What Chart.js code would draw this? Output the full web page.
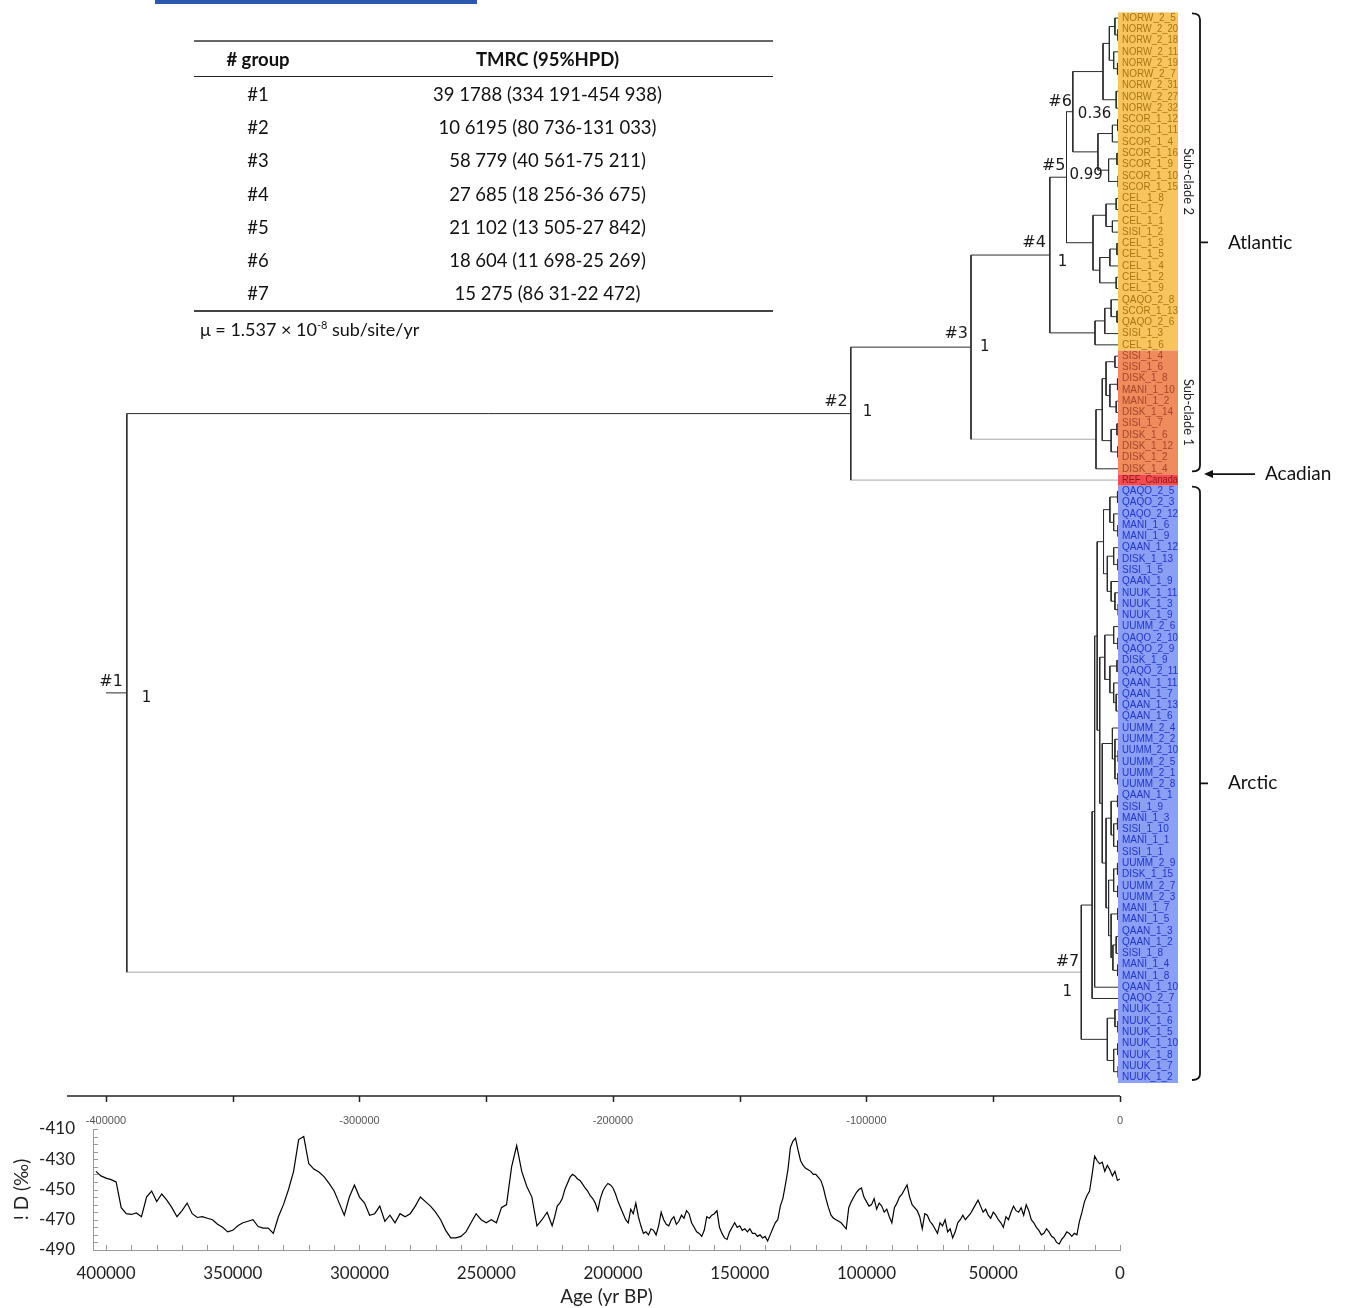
<!DOCTYPE html>
<html>
<head>
<meta charset="utf-8">
<title>TMRCA tree and deuterium record</title>
<script src="https://cdn.jsdelivr.net/npm/chart.js@4.4.1/dist/chart.umd.min.js"></script>
<style>
    html, body { margin: 0; padding: 0; background: #fff; }
    body { position: relative; width: 1357px; height: 1308px; overflow: hidden; font-family: Lato, "Open Sans", sans-serif; }
    #treeChart { position: absolute; left: 0; top: 0; }
    #climChart { position: absolute; left: 0; top: 1090px; }
    .topbar { position: absolute; left: 155px; top: 0; width: 322px; height: 4px; background: #2b58ad; }
    #tmrc { position: absolute; left: 194px; top: 40px; width: 579px; border-collapse: collapse; font-size: 18.5px; color: #111; }
    #tmrc th { height: 34px; padding: 0; font-weight: bold; border-top: 2px solid #666; border-bottom: 1.5px solid #222; }
    #tmrc td { height: 33.3px; padding: 0; text-align: center; }
    #tmrc tbody tr:last-child td { border-bottom: 2px solid #444; }
    #tmrc .c1 { width: 128px; }
    #mu { position: absolute; left: 200px; top: 318px; font-size: 18px; color: #111; }
    #mu sup { font-size: 11px; }
</style>
</head>
<body>
<canvas id="treeChart" width="1357" height="1090"></canvas>
<canvas id="climChart" width="1357" height="218"></canvas>
<div class="topbar"></div>
<table id="tmrc">
    <thead><tr><th class="c1"># group</th><th>TMRC (95%HPD)</th></tr></thead>
    <tbody id="tmrcBody"></tbody>
</table>
<div id="mu">μ = 1.537 × 10<sup>-8</sup> sub/site/yr</div>

<script>
// ---- data ----
const nodeNames = ['#1', '#2', '#3', '#4', '#5', '#6', '#7'];
const nodeAges = [391788, 106195, 58779, 27685, 21102, 18604, 15275];
const nodePosterior = ['1', '1', '1', '1', '0.99', '0.36', '1'];
const nodeHpd = ['39 1788 (334 191-454 938)', '10 6195 (80 736-131 033)', '58 779 (40 561-75 211)',
    '27 685 (18 256-36 675)', '21 102 (13 505-27 842)', '18 604 (11 698-25 269)', '15 275 (86 31-22 472)'];

const tipNames = [
    'NORW_2_5', 'NORW_2_20', 'NORW_2_18', 'NORW_2_11', 'NORW_2_19', 'NORW_2_7', 'NORW_2_31', 'NORW_2_27', 'NORW_2_32',
    'SCOR_1_12', 'SCOR_1_11', 'SCOR_1_4', 'SCOR_1_16', 'SCOR_1_9', 'SCOR_1_10', 'SCOR_1_15',
    'CEL_1_8', 'CEL_1_7', 'CEL_1_1', 'SISI_1_2', 'CEL_1_3', 'CEL_1_5', 'CEL_1_4', 'CEL_1_2', 'CEL_1_9',
    'QAQO_2_8', 'SCOR_1_13', 'QAQO_2_6', 'SISI_1_3', 'CEL_1_6',
    'SISI_1_4', 'SISI_1_6', 'DISK_1_8', 'MANI_1_10', 'MANI_1_2', 'DISK_1_14', 'SISI_1_7', 'DISK_1_6', 'DISK_1_12', 'DISK_1_2', 'DISK_1_4',
    'REF_Canada',
    'QAQO_2_5', 'QAQO_2_3', 'QAQO_2_12', 'MANI_1_6', 'MANI_1_9', 'QAAN_1_12', 'DISK_1_13', 'SISI_1_5', 'QAAN_1_9',
    'NUUK_1_11', 'NUUK_1_3', 'NUUK_1_9', 'UUMM_2_6', 'QAQO_2_10', 'QAQO_2_9', 'DISK_1_9', 'QAQO_2_11',
    'QAAN_1_11', 'QAAN_1_7', 'QAAN_1_13', 'QAAN_1_6', 'UUMM_2_4', 'UUMM_2_2', 'UUMM_2_10', 'UUMM_2_5', 'UUMM_2_1', 'UUMM_2_8',
    'QAAN_1_1', 'SISI_1_9', 'MANI_1_3', 'SISI_1_10', 'MANI_1_1', 'SISI_1_1', 'UUMM_2_9', 'DISK_1_15', 'UUMM_2_7', 'UUMM_2_3',
    'MANI_1_7', 'MANI_1_5', 'QAAN_1_3', 'QAAN_1_2', 'SISI_1_8', 'MANI_1_4', 'MANI_1_8', 'QAAN_1_10', 'QAQO_2_7',
    'NUUK_1_1', 'NUUK_1_6', 'NUUK_1_5', 'NUUK_1_10', 'NUUK_1_8', 'NUUK_1_7', 'NUUK_1_2'
];

// clades: [first tip, last tip, age (yr BP)]; first seven are the numbered nodes
const clades = [
    [0, 94, 391788], [0, 41, 106195], [0, 40, 58779], [0, 29, 27685], [0, 24, 21102], [0, 15, 18604], [42, 94, 15275],
    [0, 8, 6700], [0, 5, 4200], [0, 2, 2000], [1, 2, 800], [3, 5, 2500], [4, 5, 1000], [6, 8, 1500], [6, 7, 600],
    [9, 15, 8700], [9, 11, 3000], [9, 10, 900], [12, 15, 4500], [12, 13, 1200], [14, 15, 700],
    [16, 24, 10650], [16, 19, 5500], [16, 17, 1500], [18, 19, 3000], [20, 24, 8000], [20, 22, 4000], [20, 21, 1200], [23, 24, 1500],
    [25, 29, 9860], [25, 28, 6000], [25, 27, 3500], [26, 27, 1200],
    [30, 40, 9470], [30, 39, 7000], [30, 35, 5500], [30, 31, 2000], [32, 35, 4000], [32, 33, 1000], [34, 35, 1500],
    [36, 39, 3500], [36, 37, 1200], [38, 39, 800],
    [42, 87, 11000], [42, 86, 10000], [42, 85, 9000], [42, 53, 6500], [42, 46, 4000], [42, 43, 1000], [44, 46, 2500], [45, 46, 800],
    [47, 53, 5000], [47, 49, 2500], [48, 49, 800], [50, 53, 3500], [51, 53, 2000], [52, 53, 700],
    [54, 85, 8000], [54, 62, 6000], [54, 56, 2500], [55, 56, 800], [57, 62, 4000], [57, 58, 1200], [59, 62, 2500], [60, 62, 1500], [61, 62, 600],
    [63, 85, 7000], [63, 68, 3000], [64, 68, 2000], [65, 66, 700], [67, 68, 800],
    [69, 85, 5500], [69, 74, 3500], [69, 70, 1000], [71, 74, 2500], [71, 72, 1000], [73, 74, 900],
    [75, 85, 4500], [75, 78, 2500], [75, 76, 1000], [77, 78, 900],
    [79, 85, 3500], [79, 80, 900], [81, 85, 2800], [81, 83, 1500], [81, 82, 600], [84, 85, 900],
    [88, 94, 5000], [88, 90, 2000], [89, 90, 800], [91, 94, 2500], [91, 92, 900], [93, 94, 700]
];

const boxFirst = [0, 30, 41, 42];
const boxLast = [29, 40, 41, 94];
const subcladeNames = ['Sub-clade 2', 'Sub-clade 1'];
const subcladeFirst = [0, 30];
const subcladeLast = [29, 40];
const regionNames = ['Atlantic', 'Acadian', 'Arctic'];
const regionFirst = [0, 41, 42];
const regionLast = [40, 41, 94];

// deuterium record (‰): 404 000 -> 224 000 yr BP every 2000 yr
const dDOldStart = 404000, dDOldStep = 2000;
const dDOld = [
    -438, -441, -442.5, -443.5, -445, -462, -466, -466.5, -465.5, -468,
    -455, -451, -458, -453, -457, -462, -468, -464, -459, -466,
    -468.5, -468, -469, -470, -473, -475, -478, -477, -474, -472,
    -471, -470, -474.5, -475.5, -475.5, -479, -468, -460, -450, -438,
    -417, -415, -433, -436.5, -438.5, -441.5, -446, -451, -459, -467,
    -455, -447, -455, -459, -467, -466, -461, -471, -467, -472,
    -466, -468, -466, -461, -455, -458, -461, -465, -470, -477,
    -482, -482, -481, -478, -472, -466, -470, -472, -470, -472,
    -462, -460, -435, -421, -438, -448, -455, -474, -470, -465,
    -474
];
// 223 000 -> 0 yr BP every 1000 yr
const dDYoungStart = 223000, dDYoungStep = 1000;
const dDYoung = [
    -468, -461, -459, -456, -450, -446, -442, -440, -441, -443,
    -444, -446.5, -449, -451, -454, -456, -459, -464, -456, -451,
    -448, -446, -447, -449, -453, -458, -462, -466, -470, -472,
    -463, -466, -459, -468, -474, -479, -478, -480, -476, -477,
    -480, -474, -465, -470, -473, -474, -470, -468, -473, -471,
    -467, -469, -464, -466, -472, -475, -478, -479, -481, -477,
    -468, -469, -467, -466, -464, -475, -479, -482, -483, -478,
    -475, -472, -475, -474, -477, -476, -478, -476, -479, -479,
    -481, -480, -482, -481, -484, -480, -476, -472, -470, -461,
    -456, -447, -437, -422, -418, -416, -424, -431, -434, -436,
    -437, -438, -440, -440, -442, -444, -449, -456, -462, -467,
    -469, -470, -471, -472, -474, -476, -462, -458, -455, -452,
    -450, -449, -455, -458, -461, -460, -456, -463, -459, -461,
    -465, -463, -468, -472, -462, -459, -455, -453, -450, -447,
    -455, -460, -462, -464, -468, -476, -466, -467, -471, -473,
    -476, -479, -472, -474, -470, -478, -476, -482, -478, -472,
    -470, -467, -470, -468, -466, -463, -460, -457, -461, -465,
    -463, -467, -469, -465, -467, -470, -472, -475, -468, -470,
    -465, -461, -464, -465, -462, -467, -460, -464, -470, -472,
    -475, -477, -480, -479, -476, -478, -481, -482, -485, -486,
    -483, -481, -478, -479, -481, -479, -480, -471, -465, -458,
    -454, -451, -440, -428, -431, -433, -432, -438, -434, -437,
    -441, -438, -444, -443
];

const ageTicks = [400000, 350000, 300000, 250000, 200000, 150000, 100000, 50000, 0];
const topAgeTicks = [400000, 300000, 200000, 100000, 0];
const dDTicks = [-490, -470, -450, -430, -410];

// ---- styles ----
const AGE_MAX = 405128;          // age at the left edge of the plot frame
const ROOT_STUB_AGE = 400000;
const boxFill = ['#f8c45e', '#ef8b5c', '#f34b4e', '#8b9ff4'];
const boxInk = ['#a87610', '#a8452a', '#8c1a1a', '#2236c8'];
const lightBranches = new Set(['41', '30-40', '42-94']);
// [label dx, label dy, posterior dx, posterior dy, posterior align]
const nodeTextOffsets = [
    [-4, -11, 15, 5, 'left'], [-3, -12, 12, -2, 'left'], [-3, -13, 9, 0, 'left'], [-4, -12, 8, 7, 'left'],
    [-1, -11, 3, -2, 'left'], [-1, -10, 5, 2, 'left'], [-2, -10, -14, 20, 'center']
];

Chart.defaults.font.family = 'Lato, "Open Sans", sans-serif';

// table rows
const tbody = document.getElementById('tmrcBody');
nodeNames.forEach((name, i) => {
    const tr = document.createElement('tr');
    tr.innerHTML = '<td class="c1">' + name + '</td><td>' + nodeHpd[i] + '</td>';
    tbody.appendChild(tr);
});

// ---- tree layout ----
function buildTree() {
    const nodes = clades.map(([lo, hi, age]) => ({ lo, hi, age, kids: [] }));
    nodes.forEach((n, i) => {
        let best = -1;
        nodes.forEach((m, j) => {
            if (j === i || m.lo > n.lo || m.hi < n.hi || (m.hi - m.lo) <= (n.hi - n.lo)) return;
            if (best < 0 || (m.hi - m.lo) < (nodes[best].hi - nodes[best].lo)) best = j;
        });
        n.parent = best;
        if (best >= 0) nodes[best].kids.push(i);
    });
    nodes.forEach(n => {
        const items = n.kids.map(k => ({ lo: nodes[k].lo, node: k }));
        for (let t = n.lo; t <= n.hi; t++) {
            if (!n.kids.some(k => t >= nodes[k].lo && t <= nodes[k].hi)) items.push({ lo: t, tip: t });
        }
        items.sort((a, b) => a.lo - b.lo);
        n.items = items;
    });
    const yOf = item => item.tip !== undefined ? item.tip : place(item.node);
    function place(i) {
        const n = nodes[i];
        if (n.y === undefined) n.y = (yOf(n.items[0]) + yOf(n.items[n.items.length - 1])) / 2;
        return n.y;
    }
    nodes.forEach((n, i) => place(i));

    const dark = [], light = [];
    const gap = { x: null, y: null };
    nodes.forEach(n => {
        const y0 = yOf(n.items[0]), y1 = yOf(n.items[n.items.length - 1]);
        dark.push({ x: n.age, y: y0 }, { x: n.age, y: y1 }, gap);
        n.items.forEach(it => {
            const key = it.tip !== undefined ? String(it.tip) : nodes[it.node].lo + '-' + nodes[it.node].hi;
            const childAge = it.tip !== undefined ? 0 : nodes[it.node].age;
            const yy = yOf(it);
            (lightBranches.has(key) ? light : dark).push({ x: n.age, y: yy }, { x: childAge, y: yy }, gap);
        });
    });
    const root = nodes[0];
    dark.push({ x: ROOT_STUB_AGE, y: root.y }, { x: root.age, y: root.y }, gap);
    return { nodes, dark, light };
}
const tree = buildTree();

const treeDecor = {
    id: 'treeDecor',
    afterDatasetsDraw(chart) {
        const { ctx } = chart;
        const xs = chart.scales.x, ys = chart.scales.y;
        const edge = xs.getPixelForValue(0);
        const half = Math.abs(ys.getPixelForValue(1) - ys.getPixelForValue(0)) / 2;
        const tipY = t => ys.getPixelForValue(t);
        ctx.save();

        // colour blocks behind the tip names
        boxFirst.forEach((f, g) => {
            const top = tipY(f) - half, bottom = tipY(boxLast[g]) + half;
            ctx.fillStyle = boxFill[g];
            ctx.fillRect(edge - 2, top, 60, bottom - top);
        });
        ctx.font = '10px "Liberation Sans", Arial, sans-serif';
        ctx.textBaseline = 'middle';
        ctx.textAlign = 'left';
        tipNames.forEach((name, t) => {
            const g = boxFirst.findIndex((f, k) => t >= f && t <= boxLast[k]);
            ctx.fillStyle = boxInk[g];
            ctx.fillText(name, edge + 2, tipY(t), 56);
        });

        // sub-clade captions
        ctx.font = '13px Lato, sans-serif';
        ctx.fillStyle = '#222';
        ctx.textAlign = 'center';
        subcladeNames.forEach((name, k) => {
            const cy = (tipY(subcladeFirst[k]) + tipY(subcladeLast[k])) / 2;
            ctx.save();
            ctx.translate(edge + 68, cy);
            ctx.rotate(Math.PI / 2);
            ctx.fillText(name, 0, 0);
            ctx.restore();
        });

        // brackets and region names
        const bx = edge + 80;
        ctx.strokeStyle = '#111';
        ctx.fillStyle = '#111';
        ctx.lineWidth = 1.8;
        ctx.font = '19px Lato, sans-serif';
        ctx.textAlign = 'left';
        regionNames.forEach((name, k) => {
            if (regionFirst[k] === regionLast[k]) {
                const ay = tipY(regionFirst[k]) - 6;
                ctx.beginPath();
                ctx.moveTo(bx + 55, ay);
                ctx.lineTo(bx + 10, ay);
                ctx.stroke();
                ctx.beginPath();
                ctx.moveTo(bx + 4, ay);
                ctx.lineTo(bx + 13, ay - 4);
                ctx.lineTo(bx + 13, ay + 4);
                ctx.closePath();
                ctx.fill();
                ctx.fillText(name, bx + 65, ay);
                return;
            }
            const top = tipY(regionFirst[k]) - half + 1;
            const bottom = tipY(regionLast[k]) + half - 3;
            const mid = (top + bottom) / 2;
            ctx.beginPath();
            ctx.moveTo(bx - 8, top);
            ctx.quadraticCurveTo(bx, top, bx, top + 6);
            ctx.lineTo(bx, bottom - 6);
            ctx.quadraticCurveTo(bx, bottom, bx - 8, bottom);
            ctx.moveTo(bx, mid);
            ctx.lineTo(bx + 8, mid);
            ctx.stroke();
            ctx.fillText(name, bx + 28, mid);
        });

        // numbered nodes and posteriors
        ctx.fillStyle = '#1a1a1a';
        nodeNames.forEach((name, i) => {
            const n = tree.nodes[i];
            const px = xs.getPixelForValue(n.age), py = ys.getPixelForValue(n.y);
            const o = nodeTextOffsets[i];
            ctx.font = '16px "DejaVu Sans", sans-serif';
            ctx.textAlign = 'right';
            ctx.fillText(name, px + o[0], py + o[1]);
            ctx.font = '15px "DejaVu Sans", sans-serif';
            ctx.textAlign = o[4];
            ctx.fillText(nodePosterior[i], px + o[2], py + o[3]);
        });
        ctx.restore();
    }
};

new Chart(document.getElementById('treeChart'), {
    type: 'scatter',
    data: {
        datasets: [
            { data: tree.dark, showLine: true, borderColor: '#2b2b2b', borderWidth: 1, pointRadius: 0, spanGaps: false, clip: false },
            { data: tree.light, showLine: true, borderColor: '#a8a8a8', borderWidth: 1, pointRadius: 0, spanGaps: false, clip: false }
        ]
    },
    options: {
        responsive: false,
        animation: false,
        layout: { padding: { left: 93, right: 237, top: 12.4, bottom: 7 } },
        plugins: { legend: { display: false }, tooltip: { enabled: false } },
        scales: {
            x: { type: 'linear', reverse: true, min: 0, max: AGE_MAX, display: false },
            y: { type: 'linear', reverse: true, min: -0.5, max: tipNames.length - 0.5, display: false }
        }
    },
    plugins: [treeDecor]
});

// ---- deuterium panel ----
const dDPoints = [];
dDOld.forEach((v, i) => dDPoints.push({ x: dDOldStart - i * dDOldStep, y: v }));
dDYoung.forEach((v, i) => dDPoints.push({ x: dDYoungStart - i * dDYoungStep, y: v }));

const climDecor = {
    id: 'climDecor',
    afterDraw(chart) {
        const { ctx, chartArea: a } = chart;
        const xs = chart.scales.x, ys = chart.scales.y;
        ctx.save();
        // time axis of the tree
        ctx.strokeStyle = '#222';
        ctx.lineWidth = 1.5;
        ctx.beginPath();
        ctx.moveTo(xs.getPixelForValue(415400), 6);
        ctx.lineTo(xs.getPixelForValue(0), 6);
        ageTicks.forEach(v => {
            const px = Math.round(xs.getPixelForValue(v)) + 0.5;
            ctx.moveTo(px, 6);
            ctx.lineTo(px, 12);
        });
        ctx.stroke();
        // inward minor ticks
        ctx.strokeStyle = '#999';
        ctx.lineWidth = 1;
        ctx.beginPath();
        for (let v = 0; v <= 400000; v += 10000) {
            const px = Math.round(xs.getPixelForValue(v)) + 0.5;
            ctx.moveTo(px, a.bottom);
            ctx.lineTo(px, a.bottom - 5);
        }
        for (let v = -490; v <= -410; v += 5) {
            const py = Math.round(ys.getPixelForValue(v)) + 0.5;
            ctx.moveTo(a.left, py);
            ctx.lineTo(a.left + 5, py);
        }
        ctx.stroke();
        ctx.restore();
    }
};

new Chart(document.getElementById('climChart'), {
    type: 'line',
    data: {
        datasets: [{
            data: dDPoints,
            borderColor: '#000',
            borderWidth: 1.2,
            pointRadius: 0,
            tension: 0
        }]
    },
    options: {
        responsive: false,
        animation: false,
        layout: { padding: { left: 0, right: 237, top: 0, bottom: 0 } },
        plugins: { legend: { display: false }, tooltip: { enabled: false } },
        scales: {
            x: {
                type: 'linear', position: 'bottom', reverse: true, min: 0, max: AGE_MAX,
                afterBuildTicks: s => { s.ticks = ageTicks.map(v => ({ value: v })); },
                afterFit: s => { s.height = 58; },
                grid: { display: false, drawTicks: false },
                border: { display: true, color: '#999', width: 1 },
                ticks: { padding: 13, autoSkip: false, maxRotation: 0, color: '#222', font: { size: 17 }, callback: v => String(v) },
                title: { display: true, text: 'Age (yr BP)', color: '#222', font: { size: 19 }, padding: { top: 2, bottom: 0 } }
            },
            x2: {
                type: 'linear', position: 'top', reverse: true, min: 0, max: AGE_MAX,
                afterBuildTicks: s => { s.ticks = topAgeTicks.map(v => ({ value: v })); },
                afterFit: s => { s.height = 39; },
                grid: { display: false, drawTicks: false },
                border: { display: false },
                ticks: { padding: 1, autoSkip: false, maxRotation: 0, color: '#555', font: { size: 11, family: '"Liberation Sans", Arial, sans-serif' },
                    callback: v => v === 0 ? '0' : '-' + v }
            },
            y: {
                type: 'linear', min: -490, max: -410,
                afterBuildTicks: s => { s.ticks = dDTicks.map(v => ({ value: v })); },
                afterFit: s => { s.width = 93; },
                grid: { display: false, drawTicks: false },
                border: { display: true, color: '#999', width: 1 },
                ticks: { padding: 18, color: '#222', font: { size: 17 } },
                title: { display: true, text: '! D (‰)', color: '#222', font: { size: 19 }, padding: { top: 10, bottom: 0 } }
            }
        }
    },
    plugins: [climDecor]
});
</script>
</body>
</html>
